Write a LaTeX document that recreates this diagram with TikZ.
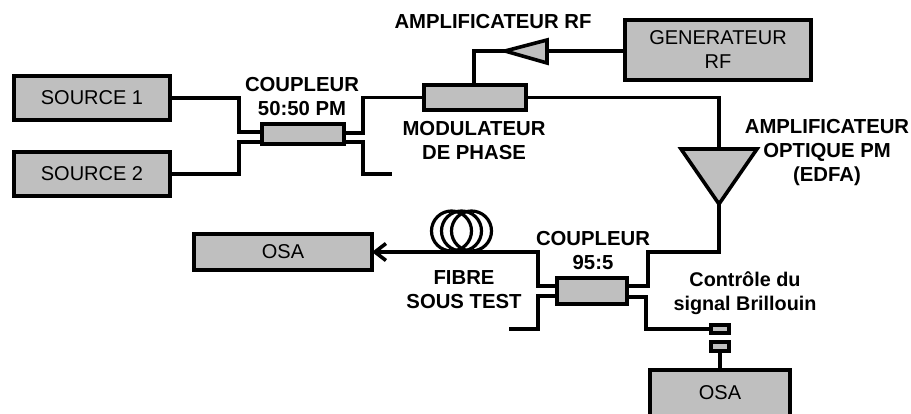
\documentclass[tikz,border=0pt]{standalone}
\usepackage{fontspec}
\setmainfont{Liberation Sans}
\usetikzlibrary{arrows.meta}
\tikzset{
  box/.style={draw=black,fill=boxgray,line width=3.6pt,inner sep=0pt,outer sep=0pt,font=\fontsize{20}{24}\selectfont,align=center},
  wire/.style={draw=black,line width=3.8pt,line join=miter},
  tri/.style={draw=black,fill=boxgray,line width=3.6pt,line join=miter},
  lab/.style={inner sep=0pt,align=center,font=\fontsize{20.3}{24}\selectfont\bfseries},
  lab small/.style={inner sep=0pt,align=center,font=\fontsize{19.8}{24}\selectfont\bfseries},
}
\definecolor{boxgray}{HTML}{BFBFBF}
\begin{document}
\begin{tikzpicture}[x=1pt,y=-1pt]
\clip (0,0) rectangle (911,414);
% wires
\coordinate (ampTip) at (505,51);
\coordinate (ampBase) at (547,51);
\coordinate (edfaTop) at (719,149);
\coordinate (edfaTip) at (719,204);
\coordinate (c1free) at (392,174);
\coordinate (c2free) at (509,329);
% boxes
\node[box,minimum width=156pt,minimum height=44pt] (src1) at (92,98) {SOURCE 1};
\node[box,minimum width=156pt,minimum height=44pt] (src2) at (92,174) {SOURCE 2};
\node[box,minimum width=82pt,minimum height=20pt] (c1) at (303,134) {};
\node[box,minimum width=102pt,minimum height=25pt] (mod) at (475,97.5) {};
\node[box,minimum width=186pt,minimum height=60pt] (gen) at (718,50) {GENERATEUR\\RF};
\node[box,minimum width=178pt,minimum height=36pt] (osa1) at (283,252) {OSA};
\node[box,minimum width=70pt,minimum height=26pt] (c2) at (592,291) {};
\node[box,minimum width=18.5pt,minimum height=8.5pt] (conA) at (720,329) {};
\node[box,minimum width=18.5pt,minimum height=9.5pt] (conB) at (720,346.5) {};
\node[box,minimum width=140pt,minimum height=55pt] (osa2) at (720,397.5) {};
\node[inner sep=0pt,font=\fontsize{20}{24}\selectfont] (osa2t) at (720,393) {OSA};
% triangles
\draw[tri] (ampTip) -- (547,40) -- (547,63) -- cycle;
\draw[tri] (681,149) -- (757,149) -- (edfaTip) -- cycle;
% coil
\draw[line width=3.2pt] (451.5,231) ellipse [x radius=20,y radius=20];
\draw[line width=3.2pt] (461.5,231) ellipse [x radius=20,y radius=20];
\draw[line width=3.2pt] (471.5,231) ellipse [x radius=20,y radius=20];
% wires
\draw[wire] (src1.east) -- ++(69,0) |- ([yshift=2pt]c1.west);
\draw[wire] (src2.east) -- ++(69,0) |- ([yshift=-8pt]c1.west);
\draw[wire] ([yshift=1pt]c1.east) -- ++(19,0) |- (mod.west);
\draw[wire] ([yshift=-8pt]c1.east) -- ++(19,0) |- (c1free);
\draw[wire] (mod.east) -| (edfaTop);
\draw[wire] (gen.west |- ampBase) -- (ampBase);
\draw[wire] (ampTip) -| (mod.north -| 474,0);
\draw[wire] (edfaTip) -- ++(0,48) -- ++(-71,0) |- ([yshift=5pt]c2.east);
\draw[wire] ([yshift=-6pt]c2.east) -- ++(19,0) |- (conA.west);
\draw[wire] (conB.south) -- (osa2.north);
\draw[wire,-{Straight Barb[length=11pt,width=17pt,line width=3.6pt]}] ([yshift=5pt]c2.west) -- ++(-19,0) |- (osa1.east);
\draw[wire] ([yshift=-5pt]c2.west) -- ++(-19,0) |- (c2free);
% labels
\node[lab] (l1) at (302,97) {COUPLEUR\\50:50 PM};
\node[lab] (l2) at (493,22) {AMPLIFICATEUR RF};
\node[lab] (l3) at (474,141) {MODULATEUR\\DE PHASE};
\node[lab] (l4) at (827,153) {AMPLIFICATEUR\\OPTIQUE PM\\(EDFA)};
\node[lab] (l5) at (464,290) {FIBRE\\SOUS TEST};
\node[lab] (l6) at (593,251) {COUPLEUR\\95:5};
\node[lab small] (l7) at (745,293) {Contrôle du\\signal Brillouin};
\end{tikzpicture}
\end{document}
